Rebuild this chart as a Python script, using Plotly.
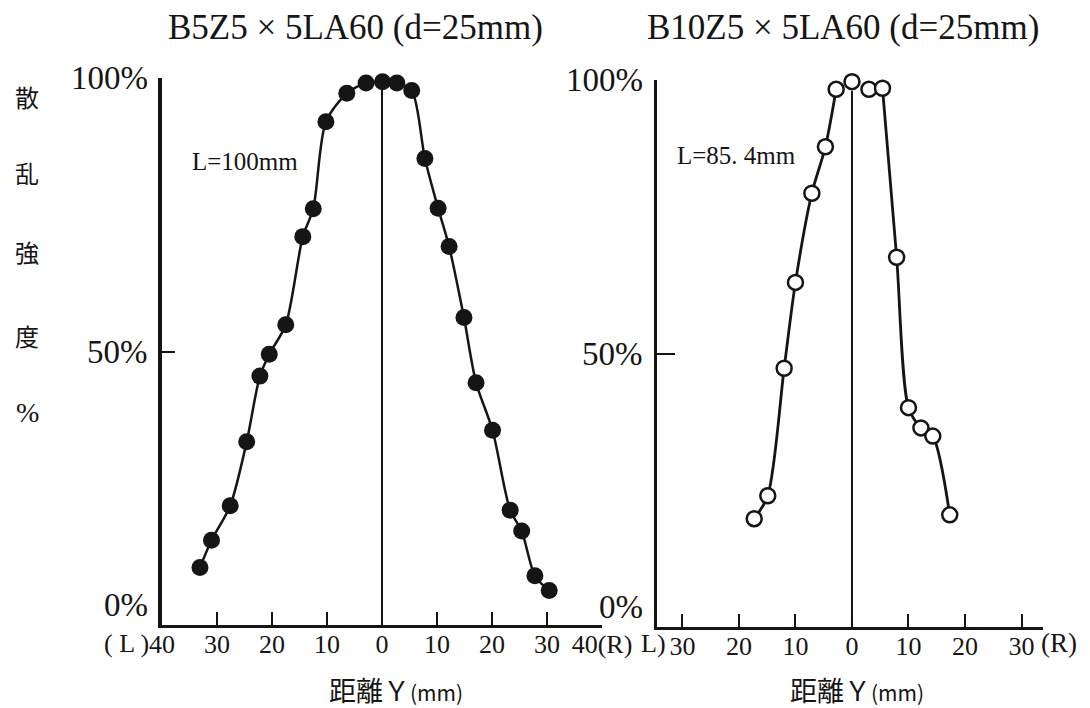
import plotly.graph_objects as go

W, H = 1090, 708

# ---------------- data ----------------
# Left panel: B5Z5x5LA60, L=100mm (filled markers)
left_x = [-33.1, -31.0, -27.6, -24.6, -22.2, -20.5, -17.5, -14.4, -12.5, -10.2, -6.4, -2.9,
          0.1, 2.7, 5.4, 7.8, 10.2, 12.2, 14.9, 17.1, 20.1, 23.3, 25.4, 27.8, 30.4]
left_y = [10.5, 15.5, 21.8, 33.5, 45.5, 49.5, 54.9, 71.0, 76.1, 92.0, 97.2, 99.1,
          99.3, 99.1, 97.7, 85.3, 76.2, 69.2, 56.2, 44.3, 35.6, 21.0, 17.2, 9.0, 6.3]

# Right panel: B10Z5x5LA60, L=85.4mm (open markers)
right_left_x = [-17.3, -14.9, -12.0, -10.0, -7.1, -4.7, -2.8]
right_left_y = [19.8, 24.0, 47.3, 63.0, 79.3, 87.8, 98.3]
right_top_x = [0.0, 3.0]
right_top_y = [99.7, 98.3]
right_right_x = [5.4, 7.9, 10.0, 12.2, 14.3, 17.3]
right_right_y = [98.5, 67.6, 40.1, 36.4, 34.9, 20.5]

left_ticks = [-40, -30, -20, -10, 0, 10, 20, 30, 40]
left_ticktext = ["40", "30", "20", "10", "0", "10", "20", "30", "40(R)"]
right_ticks = [-30, -20, -10, 0, 10, 20, 30]
right_ticktext = ["30", "20", "10", "0", "10", "20", "30"]

y_ticks = [0, 50, 100]
y_ticktext = ["0%", "50%", "100%"]

titles = ["B5Z5 × 5LA60 (d=25mm)", "B10Z5 × 5LA60 (d=25mm)"]
ylabel_chars = ["散", "乱", "強", "度", "%"]

INK = "#151515"
SERIF = "Liberation Serif"
CJK = "Noto Sans CJK JP"


def px(x):
    return x / W


def py(y):
    return 1 - y / H


fig = go.Figure()

fig.add_trace(go.Scatter(
    x=left_x, y=left_y, mode="lines+markers", xaxis="x", yaxis="y",
    line=dict(color=INK, width=2.5, shape="spline", smoothing=0.8),
    marker=dict(color=INK, size=17), cliponaxis=False, showlegend=False))

for bx, by in [(right_left_x, right_left_y), (right_right_x, right_right_y)]:
    fig.add_trace(go.Scatter(
        x=bx, y=by, mode="lines", xaxis="x2", yaxis="y2",
        line=dict(color=INK, width=2.8, shape="spline", smoothing=0.8),
        cliponaxis=False, showlegend=False))

fig.add_trace(go.Scatter(
    x=right_left_x + right_top_x + right_right_x,
    y=right_left_y + right_top_y + right_right_y,
    mode="markers", xaxis="x2", yaxis="y2",
    marker=dict(symbol="circle", color="white", size=15,
                line=dict(color=INK, width=2.5)),
    cliponaxis=False, showlegend=False))

axis_common = dict(showgrid=False, zeroline=False, showline=True, linecolor=INK,
                   ticks="inside", tickcolor=INK, tickwidth=2, fixedrange=True,
                   automargin=False)

fig.update_layout(
    width=W, height=H, autosize=False,
    margin=dict(l=0, r=0, t=0, b=0, pad=0, autoexpand=False),
    paper_bgcolor="white", plot_bgcolor="white", showlegend=False,
    xaxis=dict(domain=[px(162), px(602)], range=[-40, 40], anchor="y",
               tickvals=left_ticks, ticktext=left_ticktext, ticklen=13, linewidth=2.5,
               tickfont=dict(family=SERIF, size=26, color=INK), **axis_common),
    yaxis=dict(domain=[py(625), py(78)], range=[0, 100], anchor="x",
               tickvals=[50, 100], showticklabels=False, ticklen=13, linewidth=4,
               **axis_common),
    xaxis2=dict(domain=[px(657), px(1043)], range=[-34.5, 33.8], anchor="y2",
                tickvals=right_ticks, ticktext=right_ticktext, ticklen=13, linewidth=2.5,
                tickfont=dict(family=SERIF, size=26, color=INK), **axis_common),
    yaxis2=dict(domain=[py(627), py(80)], range=[0, 100], anchor="x2",
                tickvals=[50, 100], showticklabels=False, ticklen=18, linewidth=2.5,
                **axis_common),
)

try:
    fig.update_layout(xaxis_ticklabelstandoff=-6, xaxis2_ticklabelstandoff=-6)
except Exception:
    pass

# centre lines at Y = 0
fig.add_shape(type="line", xref="x", yref="y", x0=0, x1=0, y0=0, y1=98,
              line=dict(color=INK, width=2))
fig.add_shape(type="line", xref="x2", yref="y2", x0=0, x1=0, y0=0, y1=98,
              line=dict(color=INK, width=2))

ann = []
# titles
for t, cx in zip(titles, [355, 843]):
    ann.append(dict(text=t, x=px(cx), y=py(27), xref="paper", yref="paper",
                    xanchor="center", yanchor="middle", showarrow=False,
                    font=dict(family=SERIF, size=35, color=INK)))
# y tick labels
for v, txt in zip(y_ticks, y_ticktext):
    shift = 20 if v == 0 else 0
    ann.append(dict(text=txt, x=px(150), y=v, xref="paper", yref="y", yshift=shift,
                    xanchor="right", yanchor="middle", showarrow=False,
                    font=dict(family=SERIF, size=33, color=INK)))
    ann.append(dict(text=txt, x=px(645), y=v, xref="paper", yref="y2", yshift=shift,
                    xanchor="right", yanchor="middle", showarrow=False,
                    font=dict(family=SERIF, size=33, color=INK)))
# x end labels
ann.append(dict(text="( L )", x=px(151), y=py(643), xref="paper", yref="paper",
                xanchor="right", yanchor="middle", showarrow=False,
                font=dict(family=SERIF, size=26, color=INK)))
ann.append(dict(text="L)", x=px(668), y=py(643), xref="paper", yref="paper",
                xanchor="right", yanchor="middle", showarrow=False,
                font=dict(family=SERIF, size=26, color=INK)))
ann.append(dict(text="(R)", x=px(1039), y=py(643), xref="paper", yref="paper",
                xanchor="left", yanchor="middle", showarrow=False,
                font=dict(family=SERIF, size=27, color=INK)))
# x axis titles
for cx in [396, 857]:
    ann.append(dict(text="距離Ｙ<span style='font-size:21px'>(mm)</span>",
                    x=px(cx), y=py(689), xref="paper", yref="paper",
                    xanchor="center", yanchor="middle", showarrow=False,
                    font=dict(family=CJK, size=27, color=INK)))
# vertical y label
for ch, yy in zip(ylabel_chars, [97, 172, 252, 335, 412]):
    ann.append(dict(text=ch, x=px(27), y=py(yy), xref="paper", yref="paper",
                    xanchor="center", yanchor="middle", showarrow=False,
                    font=dict(family=CJK if ch != "%" else SERIF,
                              size=24 if ch != "%" else 28, color=INK)))
# L labels
ann.append(dict(text="L=100mm", x=px(190), y=py(161), xref="paper", yref="paper",
                xanchor="left", yanchor="middle", showarrow=False,
                font=dict(family=SERIF, size=25, color=INK)))
ann.append(dict(text="L=85. 4mm", x=px(675), y=py(156), xref="paper", yref="paper",
                xanchor="left", yanchor="middle", showarrow=False,
                font=dict(family=SERIF, size=25, color=INK)))

fig.update_layout(annotations=ann)
fig.write_html("out.html")
